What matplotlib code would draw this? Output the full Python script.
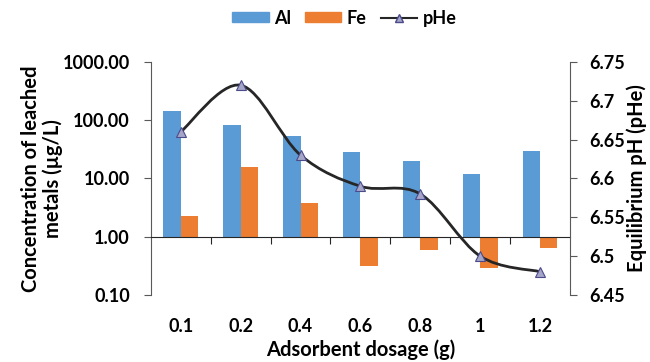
import numpy as np
import matplotlib
matplotlib.use("Agg")
import matplotlib.pyplot as plt
from matplotlib.path import Path
from matplotlib.patches import PathPatch
from matplotlib.lines import Line2D
import matplotlib.patches as mpatches
from matplotlib.transforms import blended_transform_factory

plt.rcParams['font.family'] = ['Lato', 'DejaVu Sans']
plt.rcParams['font.weight'] = 'bold'

# data
dosage = ["0.1", "0.2", "0.4", "0.6", "0.8", "1", "1.2"]
al = [144, 82, 53, 29, 20, 11.7, 30]
fe = [2.3, 16, 3.75, 0.31, 0.6, 0.29, 0.63]
phe = [6.66, 6.72, 6.63, 6.59, 6.58, 6.50, 6.48]

c_al = "#5B9BD5"
c_fe = "#ED7D31"
c_line = "#262626"
fs_tick = 13
fs_lab = 14.5

fig = plt.figure(figsize=(6.5, 3.62), dpi=100)
ax = fig.add_axes([0.232, 0.185, 0.645, 0.644])
x = np.arange(len(dosage))
w = 0.29

# excel style: bars grow from the axis crossing at 1
ax.bar(x - w / 2, np.array(al) - 1, w, bottom=1, color=c_al)
ax.bar(x + w / 2, np.array(fe) - 1, w, bottom=1, color=c_fe)
ax.set_yscale("log")
ax.set_ylim(0.1, 1000)
ax.set_xlim(-0.5, len(dosage) - 0.5)
ax.set_yticks([0.1, 1, 10, 100, 1000])
ax.set_yticklabels(["0.10", "1.00", "10.00", "100.00", "1000.00"])
ax.minorticks_off()
ax.tick_params(axis="y", labelsize=fs_tick, length=5, color="#595959", width=0.8, pad=10)

for s in ["top", "right"]:
    ax.spines[s].set_visible(False)
ax.spines["left"].set_color("#595959")
ax.spines["bottom"].set_position(("data", 1))
ax.spines["bottom"].set_color("#262626")
ax.set_xticks(x)
ax.set_xticklabels([])
ax.tick_params(axis="x", which="major", length=0)
ax.set_xticks(np.arange(0.5, len(dosage) - 0.5), minor=True)
ax.tick_params(axis="x", which="minor", length=5, color="#262626", width=0.8)

trans = blended_transform_factory(ax.transData, ax.transAxes)
for xi, lab in zip(x, dosage):
    ax.text(xi, -0.137, lab, transform=trans, ha="center", va="center", fontsize=fs_tick, fontweight="bold")
ax.text(0.5, -0.235, "Adsorbent dosage (g)", transform=ax.transAxes, ha="center", va="center",
        fontsize=fs_lab, fontweight="bold")
fig.text(42 / 650, 0.507, "Concentration of leached\nmetals (µg/L)", rotation=90, ha="center", va="center",
         fontsize=fs_lab, fontweight="bold", linespacing=1.1)

ax2 = ax.twinx()
ax2.set_ylim(6.45, 6.75)
ax2.set_yticks([6.45, 6.5, 6.55, 6.6, 6.65, 6.7, 6.75])
ax2.set_yticklabels(["6.45", "6.5", "6.55", "6.6", "6.65", "6.7", "6.75"])
for s in ["top", "left", "bottom"]:
    ax2.spines[s].set_visible(False)
ax2.spines["right"].set_color("#595959")
ax2.tick_params(axis="y", labelsize=fs_tick, length=5, color="#595959", width=0.8, pad=9)
fig.text(637 / 650, 0.507, "Equilibrium pH (pHe)", rotation=90, ha="center", va="center",
         fontsize=fs_lab, fontweight="bold")

# smoothed line like excel (cubic bezier through points)
px = x.astype(float)
py = np.array(phe)
verts = [(px[0], py[0])]
codes = [Path.MOVETO]
n = len(px)
for i in range(n - 1):
    p0 = (px[max(i - 1, 0)], py[max(i - 1, 0)])
    p1 = (px[i], py[i])
    p2 = (px[i + 1], py[i + 1])
    p3 = (px[min(i + 2, n - 1)], py[min(i + 2, n - 1)])
    c1 = (p1[0] + (p2[0] - p0[0]) / 6, p1[1] + (p2[1] - p0[1]) / 6)
    c2 = (p2[0] - (p3[0] - p1[0]) / 6, p2[1] - (p3[1] - p1[1]) / 6)
    verts += [c1, c2, p2]
    codes += [Path.CURVE4] * 3
ax2.add_patch(PathPatch(Path(verts, codes), facecolor="none", edgecolor=c_line, lw=2))
ax2.plot(px, py, ls="none", marker="^", ms=7, mfc="#A5A5C8", mec="#4B4B8C", mew=0.8, zorder=5)

handles = [mpatches.Patch(color=c_al, label="Al"),
           mpatches.Patch(color=c_fe, label="Fe"),
           Line2D([], [], color=c_line, lw=1.5, marker="^", ms=6, mfc="#A5A5C8", mec="#4B4B8C", label="pHe")]
fig.legend(handles=handles, loc="center", bbox_to_anchor=(0.53, 0.95), ncol=3, frameon=False,
           fontsize=fs_tick, handlelength=2.0, handleheight=0.45, columnspacing=0.8, handletextpad=0.3)

fig.savefig("out.png", dpi=100)
